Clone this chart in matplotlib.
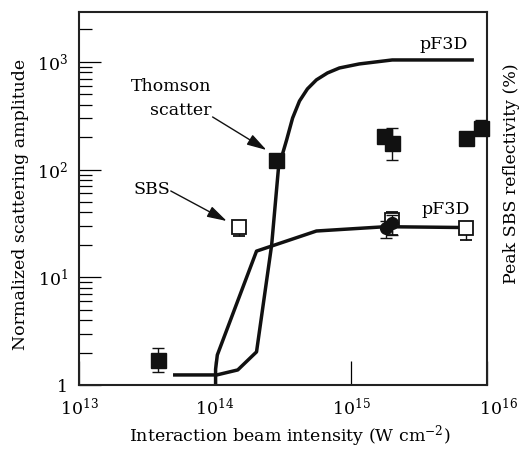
import matplotlib
matplotlib.use("Agg")
import matplotlib.pyplot as plt
import matplotlib.transforms as mtrans
from matplotlib.ticker import FixedLocator, FixedFormatter, LogLocator, NullLocator

plt.rcParams['font.family'] = ['DejaVu Serif']
plt.rcParams['mathtext.fontset'] = 'dejavuserif'

# pF3D simulation: Thomson-scatter amplitude vs. intensity
thomson_sim_x = [5.06e13, 1.03e14, 1.47e14, 2.02e14, 2.61e14, 2.93e14, 3.36e14,
                 3.72e14, 4.18e14, 4.78e14, 5.57e14, 6.71e14, 8.22e14, 1.15e15,
                 2.01e15, 7.78e15]
thomson_sim_y = [1.24, 1.24, 1.38, 2.03, 20, 104, 188,
                 301, 433, 561, 681, 789, 878, 957,
                 1042, 1042]

# pF3D simulation: peak SBS reflectivity vs. intensity
sbs_sim_x = [1.01e14, 1.01e14, 1.04e14, 2.02e14, 5.57e14, 1.8e15, 6.4e15]
sbs_sim_y = [1.0, 1.4, 1.9, 17.5, 26.9, 29.5, 29.0]

# Measured Thomson-scatter amplitude (filled squares)
thomson_x = [3.8e13, 2.79e14, 1.76e15, 2.01e15, 7.03e15, 9.06e15]
thomson_y = [1.7, 123, 205, 177, 196, 243]
thomson_lo = [1.32, 123, 205, 123, 170, 208]
thomson_hi = [2.21, 123, 205, 243, 196, 288]

# Measured SBS reflectivity (open squares)
sbs_x = [1.5e14, 2.01e15, 7.03e15]
sbs_y = [29.6, 34.0, 28.7]
sbs_lo = [24.2, 24.6, 22.0]
sbs_hi = [29.6, 40.4, 28.7]

# Additional SBS measurements (filled circles)
sbs2_x = [1.82e15, 2.01e15]
sbs2_y = [28.7, 31.9]
sbs2_lo = [23.2, 24.6]
sbs2_hi = [33.0, 37.9]

x_ticks = [1e13, 1e14, 1e15, 1e16]
x_tick_labels = ['$10^{13}$', '$10^{14}$', '$10^{15}$', '$10^{16}$']
y_ticks = [1, 10, 100, 1000]
y_tick_labels = ['1', '$10^{1}$', '$10^{2}$', '$10^{3}$']

FS = 12.5
INK = '#111111'
fig = plt.figure(figsize=(5.22, 4.49), dpi=100)
ax = fig.add_axes([79 / 522, 64 / 449, 408 / 522, 373 / 449])
ax.set_xscale('log')
ax.set_yscale('log')
ax.set_xlim(1e13, 1e16)
ax.set_ylim(1, 2905)

ax.plot(thomson_sim_x, thomson_sim_y, color=INK, lw=2.5, solid_joinstyle='round', zorder=2)
ax.plot(sbs_sim_x, sbs_sim_y, color=INK, lw=2.5, solid_joinstyle='round', zorder=2)


def asym(y, lo, hi):
    return [[v - l for v, l in zip(y, lo)], [h - v for v, h in zip(y, hi)]]


ax.errorbar(thomson_x, thomson_y, yerr=asym(thomson_y, thomson_lo, thomson_hi),
            fmt='s', ms=10.8, mfc=INK, mec=INK, ecolor=INK,
            elinewidth=1.0, capsize=4, capthick=1.0, zorder=4, clip_on=False)
ax.errorbar(sbs_x, sbs_y, yerr=asym(sbs_y, sbs_lo, sbs_hi),
            fmt='s', ms=9.5, mfc='white', mec=INK, mew=1.3, ecolor=INK,
            elinewidth=1.0, capsize=4, capthick=1.0, zorder=4, clip_on=False)
ax.errorbar(sbs2_x, sbs2_y, yerr=asym(sbs2_y, sbs2_lo, sbs2_hi),
            fmt='o', ms=8.5, mfc=INK, mec=INK, ecolor=INK,
            elinewidth=1.0, capsize=4, capthick=1.0, zorder=5, clip_on=False)

# axes styling
for s in ax.spines.values():
    s.set_linewidth(1.5)
    s.set_color('#222222')

ax.yaxis.set_major_locator(FixedLocator(y_ticks))
ax.yaxis.set_major_formatter(FixedFormatter(y_tick_labels))
ax.yaxis.set_minor_locator(LogLocator(base=10, subs=range(2, 10)))
ax.tick_params(axis='y', which='major', direction='in', length=16, width=0.9,
               pad=8, labelsize=FS, right=False)
ax.tick_params(axis='y', which='minor', direction='in', length=9, width=0.9,
               right=False)

ax.xaxis.set_major_locator(FixedLocator(x_ticks))
ax.xaxis.set_major_formatter(FixedFormatter(x_tick_labels))
ax.xaxis.set_minor_locator(NullLocator())
ax.tick_params(axis='x', which='major', direction='in', length=17, width=0.9,
               pad=9, labelsize=FS, top=False)

# nudge the last x label clear of the right spine
last = ax.get_xticklabels()[-1]
last.set_transform(last.get_transform() +
                   mtrans.ScaledTranslation(8 / 72, 0, fig.dpi_scale_trans))

# axis titles
fig.text(290 / 522, 1 - 436 / 449, 'Interaction beam intensity (W cm$^{-2}$)',
         ha='center', va='center', fontsize=FS)
fig.text(21 / 522, 1 - 204 / 449, 'Normalized scattering amplitude',
         ha='center', va='center', rotation=90, fontsize=FS)
fig.text(511 / 522, 1 - 174 / 449, 'Peak SBS reflectivity (%)',
         ha='center', va='center', rotation=90, fontsize=FS)

# annotations
arrow = dict(arrowstyle='-|>,head_length=1.2,head_width=0.35', color=INK,
             lw=1.0, shrinkA=0, shrinkB=0)
ax.text(9.45e13, 537, 'Thomson', ha='right', va='baseline', fontsize=FS)
ax.text(9.45e13, 321, 'scatter', ha='right', va='baseline', fontsize=FS)
ax.annotate('', xy=(2.39e14, 152), xytext=(9.6e13, 308), arrowprops=arrow)
ax.text(4.65e13, 64.7, 'SBS', ha='right', va='center', fontsize=FS)
ax.annotate('', xy=(1.22e14, 33.3), xytext=(4.73e13, 63.3), arrowprops=arrow)
ax.text(4.84e15, 1435, 'pF3D', ha='center', va='center', fontsize=FS)
ax.text(4.97e15, 42.2, 'pF3D', ha='center', va='center', fontsize=FS)

fig.savefig('out.png', dpi=100)
